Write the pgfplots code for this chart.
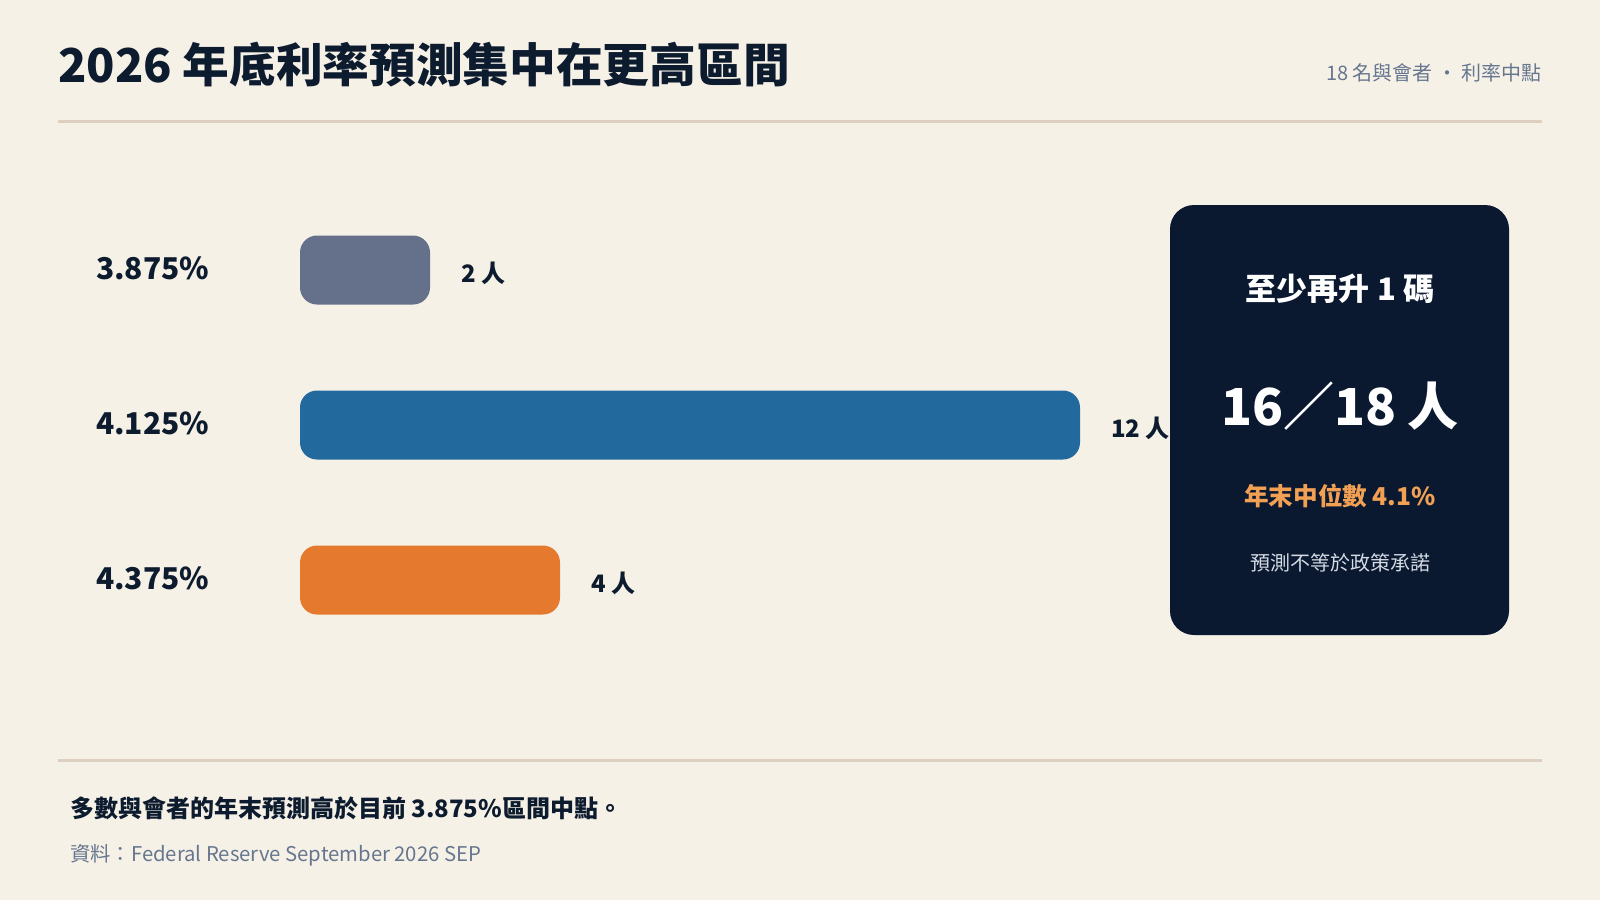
\documentclass[border=0pt]{standalone}
\usepackage{pgfplots}
\pgfplotsset{compat=1.18}
\usepackage{fontspec}
\setmainfont{Noto Sans CJK TC}
\definecolor{bg}{HTML}{F6F1E7}
\definecolor{rule}{HTML}{DDD0C0}
\definecolor{ink}{HTML}{0D1B2E}
\definecolor{muted}{HTML}{66768E}
\definecolor{barA}{HTML}{65718A}
\definecolor{barB}{HTML}{22699E}
\definecolor{barC}{HTML}{E57A2E}
\definecolor{panel}{HTML}{0A1930}
\definecolor{accent}{HTML}{F2A054}
\definecolor{soft}{HTML}{D5DBE5}
\newcommand\fs[1]{\fontsize{#1}{#1}\selectfont}
\begin{document}
\begin{tikzpicture}
\fill[bg] (0pt,0pt) rectangle (1600pt,-900pt);
\useasboundingbox (0pt,0pt) rectangle (1600pt,-900pt);

% header
\node[anchor=base west, inner sep=0, text=ink, font=\fs{46.7}\bfseries] at (58pt,-82pt) {2026 年底利率預測集中在更高區間};
\node[anchor=base east, inner sep=0, text=muted, font=\fs{20}] at (1542pt,-80pt) {18 名與會者 · 利率中點};
\draw[rule, line width=3pt] (58pt,-121pt) -- (1542pt,-121pt);

% bars
\begin{axis}[
  at={(300pt,-657.5pt)}, anchor=south west,
  scale only axis, width=780pt, height=465pt,
  xmin=0, xmax=12, ymin=-0.5, ymax=2.5, y dir=reverse,
  xbar, bar width=69pt, bar shift=0pt,
  axis line style={draw=none}, major tick length=0pt,
  xtick=\empty, ytick={0,1,2},
  yticklabels={3.875\%,4.125\%,4.375\%},
  yticklabel style={anchor=base west, inner sep=0, xshift=-204pt, yshift=-9pt, text=ink, font=\fs{30}\bfseries},
  /pgf/number format/assume math mode=true,
  point meta=x,
  nodes near coords={\pgfmathprintnumber{\pgfplotspointmeta}\ 人},
  every node near coord/.append style={anchor=base west, inner sep=0, xshift=31pt, yshift=-12pt, text=ink, font=\fs{24}\bfseries},
  every axis plot/.append style={rounded corners=17pt},
  clip=false,
]
\addplot[fill=barA, draw=none] coordinates {(2,0)};
\addplot[fill=barB, draw=none] coordinates {(12,1)};
\addplot[fill=barC, draw=none] coordinates {(4,2)};
\end{axis}

% summary panel
\fill[panel, rounded corners=24pt] (1170pt,-205pt) rectangle (1509pt,-635pt);
\node[anchor=base, inner sep=0, text=white, font=\fs{31}\bfseries] at (1340pt,-300pt) {至少再升 1 碼};
\node[anchor=base, inner sep=0, text=white, font=\fs{51}\bfseries] at (1340pt,-425pt) {16／18 人};
\node[anchor=base, inner sep=0, text=accent, font=\fs{24.6}\bfseries] at (1340pt,-505pt) {年末中位數 4.1\%};
\node[anchor=base, inner sep=0, text=soft, font=\fs{20}] at (1340pt,-570pt) {預測不等於政策承諾};

% footer
\draw[rule, line width=3pt] (58pt,-760pt) -- (1542pt,-760pt);
\node[anchor=base west, inner sep=0, text=ink, font=\fs{24}\bfseries] at (70pt,-817pt) {多數與會者的年末預測高於目前 3.875\%區間中點。};
\node[anchor=base west, inner sep=0, text=muted, font=\fs{20.3}] at (70pt,-861pt) {資料：Federal Reserve September 2026 SEP};
\end{tikzpicture}
\end{document}
